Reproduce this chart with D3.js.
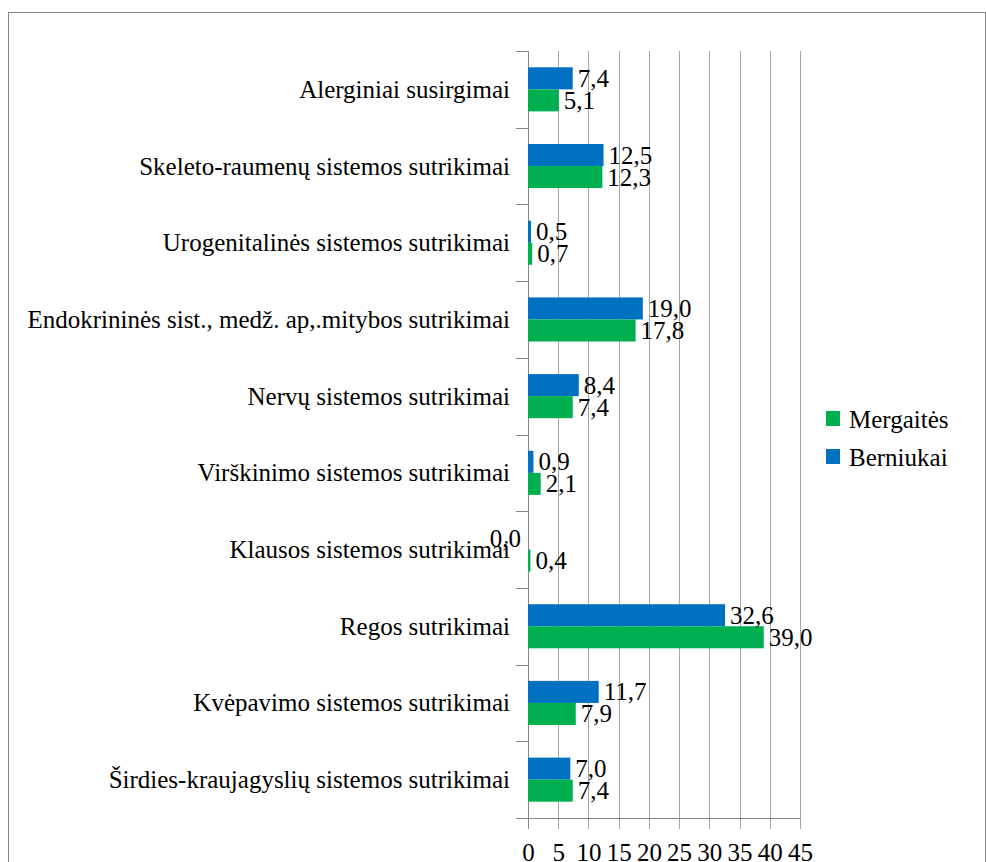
<!DOCTYPE html>
<html><head><meta charset="utf-8">
<script src="https://cdn.jsdelivr.net/npm/d3@7/dist/d3.min.js"></script>
</head><body>
<script>
const categories = ["Alerginiai susirgimai","Skeleto-raumenų sistemos sutrikimai","Urogenitalinės sistemos sutrikimai","Endokrininės sist., medž. ap,.mitybos sutrikimai","Nervų sistemos sutrikimai","Virškinimo sistemos sutrikimai","Klausos sistemos sutrikimai","Regos sutrikimai","Kvėpavimo sistemos sutrikimai","Širdies-kraujagyslių sistemos sutrikimai"];
const berniukai = [7.4,12.5,0.5,19.0,8.4,0.9,0.0,32.6,11.7,7.0];
const mergaites = [5.1,12.3,0.7,17.8,7.4,2.1,0.4,39.0,7.9,7.4];
const seriesNames = ["Berniukai","Mergaitės"];
const seriesColors = ["#0070C0","#00B050"];
const xTicks = [0,5,10,15,20,25,30,35,40,45];

const FONT='"Liberation Serif", Tinos, "Times New Roman", Times, serif';
const FS="25px";
const W=986,H=862;
d3.select("body").style("margin","0");
const svg=d3.select("body").append("svg").attr("width",W).attr("height",H).style("display","block")
  .attr("font-family",FONT).style("font-family",FONT);
svg.append("rect").attr("x",8.5).attr("y",12.5).attr("width",977).attr("height",900).attr("fill","none").attr("stroke","#868686");

const x=d3.scaleLinear().domain([0,45]).range([528,800]);
const y=d3.scaleBand().domain(categories).range([51,818]);
const inner=d3.scaleBand().domain(seriesNames).range([0,y.bandwidth()]).paddingOuter(0.74).paddingInner(0);

// gridlines
svg.append("g").selectAll("line").data(xTicks).join("line")
  .attr("x1",d=>Math.round(x(d))+0.5).attr("x2",d=>Math.round(x(d))+0.5)
  .attr("y1",51).attr("y2",829).attr("stroke","#A6A6A6");

// bottom axis
const xa=svg.append("g").attr("transform","translate(0,818)")
  .call(d3.axisBottom(x).tickValues(xTicks).tickSize(0).tickPadding(25).tickFormat(d3.format("d")));
xa.attr("font-family",FONT).attr("font-size",25);
xa.select(".domain").remove();
xa.selectAll("text").style("font-family",FONT).style("font-size",FS).attr("fill","#000");
svg.append("line").attr("x1",516).attr("x2",800).attr("y1",818.5).attr("y2",818.5).attr("stroke","#868686");

// left axis line + ticks at band boundaries
svg.append("line").attr("x1",528.5).attr("x2",528.5).attr("y1",51).attr("y2",829).attr("stroke","#868686");
const bounds=categories.map(c=>y(c)).concat([y.range()[1]]);
svg.append("g").selectAll("line").data(bounds).join("line")
  .attr("x1",516).attr("x2",528).attr("y1",d=>Math.round(d)+0.5).attr("y2",d=>Math.round(d)+0.5).attr("stroke","#868686");

// category labels
svg.append("g").selectAll("text").data(categories).join("text")
  .attr("x",510).attr("y",d=>y(d)+y.bandwidth()/2).attr("text-anchor","end")
  .attr("dominant-baseline","central").style("font-family",FONT).style("font-size",FS).text(d=>d);

// bars
const data=[];
categories.forEach((c,i)=>{data.push({c,s:"Berniukai",v:berniukai[i]});data.push({c,s:"Mergaitės",v:mergaites[i]});});
const color=d3.scaleOrdinal().domain(seriesNames).range(seriesColors);
svg.append("g").selectAll("rect").data(data).join("rect")
  .attr("x",x(0)).attr("y",d=>y(d.c)+inner(d.s)).attr("height",inner.bandwidth())
  .attr("width",d=>x(d.v)-x(0)).attr("fill",d=>color(d.s));
svg.append("g").selectAll("text").data(data).join("text")
  .attr("x",d=>d.v===0?x(0)-7:x(d.v)+5)
  .attr("text-anchor",d=>d.v===0?"end":"start")
  .attr("y",d=>y(d.c)+inner(d.s)+inner.bandwidth()/2)
  .attr("dominant-baseline","central").style("font-family",FONT).style("font-size",FS)
  .text(d=>d3.format(".1f")(d.v).replace(".",","));

// legend
const legendOrder=["Mergaitės","Berniukai"];
const lg=svg.append("g").selectAll("g").data(legendOrder).join("g")
  .attr("transform",(d,i)=>`translate(826,${411+i*38})`);
lg.append("rect").attr("width",14).attr("height",15).attr("fill",d=>color(d));
lg.append("text").attr("x",23).attr("y",8).attr("dominant-baseline","central").style("font-family",FONT).style("font-size",FS).text(d=>d);
</script>
</body></html>
